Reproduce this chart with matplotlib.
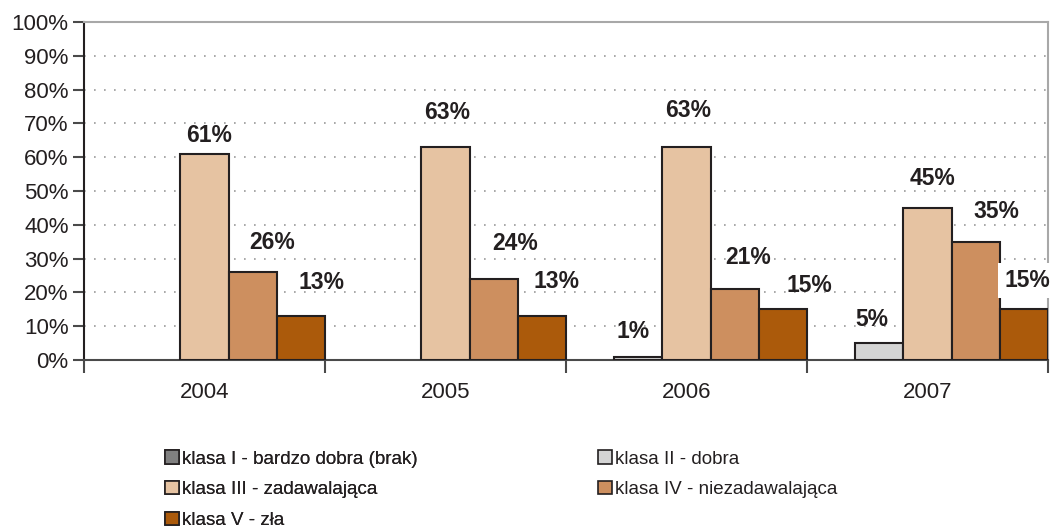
import matplotlib
matplotlib.use("Agg")
import matplotlib.pyplot as plt
import numpy as np
from matplotlib.patches import Patch

years = ["2004", "2005", "2006", "2007"]
classes = ["klasa I - bardzo dobra (brak)", "klasa II - dobra", "klasa III - zadawalająca",
           "klasa IV - niezadawalająca", "klasa V - zła"]
klasa_I = [0, 0, 0, 0]
klasa_II = [0, 0, 1, 5]
klasa_III = [61, 63, 63, 45]
klasa_IV = [26, 24, 21, 35]
klasa_V = [13, 13, 15, 15]
series = [klasa_I, klasa_II, klasa_III, klasa_IV, klasa_V]
colors = ["#808080", "#d4d4d4", "#e6c3a2", "#cd8f5f", "#ab5a0b"]

# label nudges (pixels) per series/year, as the original layout placed them
label_dx = [[0, 0, 0, 0], [0, 0, -5, -7], [5, 2, 2, 5], [19, 21, 13, 21], [21, 15, 26, 3]]
label_dy = [[0, 0, 0, 0], [0, 0, 25, 24], [18, 35, 37, 29], [30, 35, 32, 30], [34, 35, 24, 29]]

plt.rcParams['font.family'] = ['Liberation Sans', 'DejaVu Sans']

fig = plt.figure(figsize=(10.51, 5.27), dpi=100)
ax = fig.add_axes([84/1051, 1-360/527, (1048-84)/1051, (360-22)/527])
px = 72 / fig.dpi

n = len(series)
bw = 1.0 / n
x = np.arange(len(years))
for i, (vals, c) in enumerate(zip(series, colors)):
    pos = x - 0.5 + bw * (i + 0.5)
    for j, (p, v) in enumerate(zip(pos, vals)):
        if v > 0:
            ax.bar(p, v, width=bw, color=c, edgecolor="#231f20", linewidth=1.5, zorder=3)
            boxed = (i == 4 and j == 3)
            ax.annotate(f"{v}%", (p, v), xytext=(label_dx[i][j] * px, label_dy[i][j] * px),
                        textcoords="offset points",
                        ha="center", va="center", fontsize=16.5, fontweight="bold",
                        color="#231f20", zorder=4, annotation_clip=False,
                        bbox=dict(boxstyle="square,pad=0.25", fc="white", ec="none") if boxed else None)

ax.set_xlim(-0.5, len(years) - 0.5)
ax.set_ylim(0, 100)
ax.set_yticks(np.arange(0, 101, 10))
ax.set_yticklabels([f"{t}%" for t in range(0, 101, 10)], fontsize=16, color="#231f20")
ax.set_xticks(x)
ax.set_xticklabels(years, fontsize=16, color="#231f20")
ax.tick_params(axis="x", length=0, pad=16)
ax.set_xticks(np.arange(-0.5, len(years)), minor=True)
ax.tick_params(axis="x", which="minor", length=9, width=1.5, color="#4a4a4a")
ax.tick_params(axis="y", length=8, width=1.5, color="#4a4a4a", pad=3)

for g in range(10, 100, 10):
    ax.axhline(g, color="#9a9a9a", linestyle=(0, (1, 5)), linewidth=1.2, zorder=1)
for s in ["top", "right"]:
    ax.spines[s].set_color("#a8a8a8")
    ax.spines[s].set_linewidth(1.5)
ax.spines["left"].set_color("#231f20")
ax.spines["left"].set_linewidth(1.5)
ax.spines["bottom"].set_color("#4a4a4a")
ax.spines["bottom"].set_linewidth(1.5)

legprops = dict(family=['Liberation Sans', 'DejaVu Sans'], size=13.5)
def make_leg(idx, xpix):
    hs = [Patch(facecolor=colors[k], edgecolor="#231f20", linewidth=1.2, label=classes[k]) for k in idx]
    lg = fig.legend(handles=hs, loc="upper left", bbox_to_anchor=(xpix/1051, 1-441/527),
                    frameon=False, borderpad=0, handlelength=0.7, handleheight=0.7,
                    handletextpad=0.2, labelspacing=0.72, prop=legprops)
    for t in lg.get_texts():
        t.set_color("#231f20")
    return lg

leg1 = make_leg([0, 2, 4], 156)
fig.add_artist(leg1)
leg2 = make_leg([1, 3], 589)

fig.savefig("out.png", dpi=100)
